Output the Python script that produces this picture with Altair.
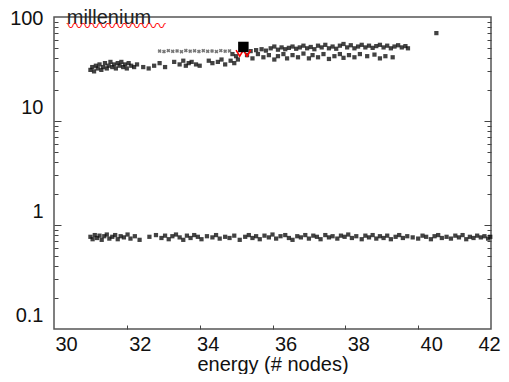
import altair as alt
import pandas as pd

# ---- data ----
lower_band = [(31.00,0.77),(31.06,0.73),(31.12,0.80),(31.18,0.75),(31.25,0.79),(31.31,0.72),(31.38,0.78),(31.45,0.81),(31.52,0.74),(31.60,0.77),(31.68,0.80),(31.75,0.73),(31.83,0.78),(31.92,0.76),(32.02,0.81),(32.10,0.74),(32.22,0.78),(32.35,0.72),(32.62,0.77),(32.80,0.80),(32.95,0.75),(33.05,0.79),(33.15,0.73),(33.25,0.78),(33.35,0.81),(33.45,0.76),(33.55,0.72),(33.65,0.79),(33.75,0.75),(33.85,0.80),(33.95,0.77),(34.05,0.73),(34.20,0.78),(34.35,0.76),(34.45,0.80),(34.55,0.74),(34.70,0.77),(34.82,0.75),(34.95,0.79),(35.10,0.72),(35.25,0.77),(35.35,0.80),(35.45,0.75),(35.55,0.78),(35.65,0.73),(35.78,0.79),(35.90,0.76),(36.00,0.81),(36.10,0.74),(36.22,0.78),(36.35,0.80),(36.45,0.75),(36.55,0.72),(36.68,0.78),(36.78,0.76),(36.90,0.80),(37.00,0.74),(37.12,0.79),(37.22,0.77),(37.32,0.73),(37.45,0.80),(37.55,0.76),(37.65,0.78),(37.78,0.74),(37.88,0.79),(37.98,0.77),(38.08,0.81),(38.18,0.75),(38.30,0.78),(38.45,0.73),(38.55,0.79),(38.65,0.76),(38.75,0.80),(38.85,0.74),(38.95,0.78),(39.05,0.75),(39.15,0.79),(39.25,0.73),(39.38,0.77),(39.48,0.80),(39.58,0.75),(39.70,0.78),(39.85,0.76),(40.00,0.74),(40.12,0.79),(40.22,0.77),(40.35,0.73),(40.45,0.78),(40.55,0.80),(40.65,0.75),(40.78,0.77),(40.90,0.74),(41.02,0.79),(41.12,0.76),(41.22,0.80),(41.32,0.73),(41.42,0.77),(41.52,0.75),(41.62,0.79),(41.72,0.76),(41.82,0.78),(41.92,0.74),(41.98,0.77)]

left_band = [(31.00,31),(31.05,33),(31.10,30),(31.15,34),(31.20,32),(31.25,35),(31.30,31),(31.35,33),(31.40,36),(31.45,32),(31.50,34),(31.55,37),(31.60,33),(31.65,35),(31.70,32),(31.75,36),(31.80,34),(31.85,37),(31.90,33),(31.95,35),(32.00,32),(32.05,36),(32.12,34),(32.20,33),(32.28,35),(32.45,33),(32.60,32),(32.75,34),(32.90,36),(33.05,33),(33.30,37),(33.45,35),(33.55,38),(33.62,34),(33.70,36),(33.78,37),(33.90,35),(34.00,34),(34.25,38),(34.35,36),(34.50,37),(34.60,39),(34.70,35),(34.85,38),(34.95,36),(35.05,39)]

cross_row = [(32.90,47),(33.02,46.5),(33.14,47.5),(33.26,46.8),(33.38,47.2),(33.50,46.4),(33.62,47.6),(33.74,46.9),(33.86,47.3),(33.98,46.6),(34.10,47.4),(34.22,46.8),(34.34,47.1),(34.46,46.5),(34.58,47.5),(34.70,46.9),(34.82,47.2)]

right_upper = [(35.40,47),(35.55,48),(35.70,49),(35.82,47.5),(35.95,50),(36.05,52),(36.15,48.5),(36.25,51),(36.35,49),(36.45,50.5),(36.55,52),(36.65,49.5),(36.75,51),(36.85,53),(36.95,50),(37.05,51.5),(37.15,49),(37.25,53),(37.35,51),(37.45,54),(37.55,50),(37.65,52),(37.75,49.5),(37.85,53),(37.95,55),(38.05,51),(38.15,53.5),(38.25,50),(38.35,52),(38.45,54),(38.55,51),(38.65,53),(38.75,50.5),(38.85,52.5),(38.95,54),(39.05,51),(39.15,53),(39.25,50),(39.35,52),(39.45,53.5),(39.55,51),(39.65,52.5),(39.72,50)]

right_lower = [(34.90,44),(35.00,42),(35.30,43),(35.45,40),(35.60,44),(35.75,41),(35.90,43),(36.05,39),(36.15,42),(36.30,44),(36.40,40),(36.55,43),(36.70,41),(36.85,44.5),(37.00,40),(37.10,43),(37.25,41),(37.40,44),(37.55,39.5),(37.70,42),(37.85,44),(37.95,40.5),(38.10,43),(38.25,41),(38.40,44),(38.60,42),(38.80,43.5),(38.95,40),(39.10,42),(39.30,41)]

outlier = [(40.5, 70)]
marker_x = [35.2]
marker_y = [51.5]
zig_x = [35.0, 35.1, 35.2, 35.3, 35.4]
zig_y = [48, 42, 48, 42, 48]

x_ticks = [30, 32, 34, 36, 38, 40, 42]
x_inner_ticks = [32, 34, 36, 38, 40]
y_ticks = [0.1, 1, 10, 100]
y_minor = [0.2,0.3,0.4,0.5,0.6,0.7,0.8,0.9,1,2,3,4,5,6,7,8,9,10,20,30,40,50,60,70,80,90]
title_text = "millenium"
x_title = "energy (# nodes)"

# ---- build ----
W, H = 437, 312
FONT = "Liberation Sans"

def frame(pairs, grp):
    return pd.DataFrame({"x": [p[0] for p in pairs], "y": [p[1] for p in pairs], "g": grp})

pts = pd.concat([frame(lower_band, "a"), frame(left_band, "a"),
                 frame(right_upper, "a"), frame(right_lower, "a"), frame(outlier, "a")])
crs = frame(cross_row, "c")

xs = alt.Scale(domain=[30, 42], nice=False, zero=False)
ys = alt.Scale(type="log", domain=[0.1, 100], nice=False)

x_label_offset = {"condition": [
    {"test": "datum.value == 30", "value": 12},
    {"test": "datum.value == 34", "value": 8},
    {"test": "datum.value == 42", "value": -2}], "value": 13}
y_label_offset = {"condition": {"test": "datum.value == 100", "value": 1}, "value": -14}
minor_size = {"condition": {"test": "indexof([1,10], datum.value) >= 0", "value": 7}, "value": 4}

main = alt.Chart(pts).mark_square(size=18, color="#0d0d0d", opacity=0.78).encode(
    x=alt.X("x:Q", scale=xs, axis=alt.Axis(
        title=x_title, values=x_ticks, ticks=False, grid=False, domain=False,
        labelOffset=x_label_offset, labelPadding=5, labelFontSize=20, labelFont=FONT,
        labelColor="#111", titleFont=FONT, titleFontSize=20, titleFontWeight="normal",
        titleColor="#111", titlePadding=0, labelFlush=False)),
    y=alt.Y("y:Q", scale=ys, axis=alt.Axis(
        title=None, values=y_ticks, format="~g", ticks=False, grid=False, domain=False,
        labelOffset=y_label_offset, labelPadding=11, labelFontSize=20, labelFont=FONT,
        labelColor="#111", labelFlush=False)),
)

crosses = alt.Chart(crs).mark_point(shape="cross", angle=45, size=16, color="#555",
                                    filled=True, opacity=0.8).encode(
    x=alt.X("x:Q", scale=xs, axis=alt.Axis(
        orient="top", offset=-H, labels=False, domain=False, ticks=True, tickSize=4,
        tickColor="#444", values=x_inner_ticks, title=None, grid=False)),
    y=alt.Y("y:Q", scale=ys, axis=alt.Axis(
        orient="right", offset=-W, labels=False, domain=False, ticks=True, tickSize=minor_size,
        tickColor="#444", values=y_minor, title=None, grid=False)),
)

mk = alt.Chart(pd.DataFrame({"x": marker_x, "y": marker_y})).mark_square(
    size=110, color="black", opacity=1).encode(
    x=alt.X("x:Q", scale=xs, axis=None),
    y=alt.Y("y:Q", scale=ys, axis=alt.Axis(
        orient="left", offset=-W, labels=False, domain=False, ticks=True, tickSize=minor_size,
        tickColor="#444", values=y_minor, title=None, grid=False)),
)

zig = alt.Chart(pd.DataFrame({"x": zig_x, "y": zig_y, "o": list(range(len(zig_x)))})).mark_line(
    color="red", strokeWidth=1.6).encode(
    x=alt.X("x:Q", scale=xs, axis=None),
    y=alt.Y("y:Q", scale=ys, axis=None),
    order="o:Q",
)

ttl = alt.Chart(pd.DataFrame({"x": [30.35], "y": [100], "t": [title_text]})).mark_text(
    align="left", baseline="middle", fontSize=20, font=FONT, color="#222", dy=1).encode(
    x=alt.X("x:Q", scale=xs, axis=None),
    y=alt.Y("y:Q", scale=ys, axis=None),
    text="t:N",
)

wave = alt.Chart(pd.DataFrame({"x": [30.35], "y": [100], "t": ["〰〰〰〰〰〰"]})).mark_text(
    align="left", baseline="middle", fontSize=16.5, font="Noto Sans CJK SC", color="red", dy=10).encode(
    x=alt.X("x:Q", scale=xs, axis=None),
    y=alt.Y("y:Q", scale=ys, axis=None),
    text="t:N",
)

chart = alt.layer(main, crosses, zig, mk, ttl, wave).resolve_axis(
    x="independent", y="independent"
).properties(
    width=W, height=H,
    autosize=alt.AutoSizeParams(type="none"),
    padding={"left": 46, "top": 9, "right": 10, "bottom": 45},
    background="white",
).configure_view(stroke="#555", strokeWidth=1.5)

chart.save("out.html", embed_options={"renderer": "svg", "actions": False})
